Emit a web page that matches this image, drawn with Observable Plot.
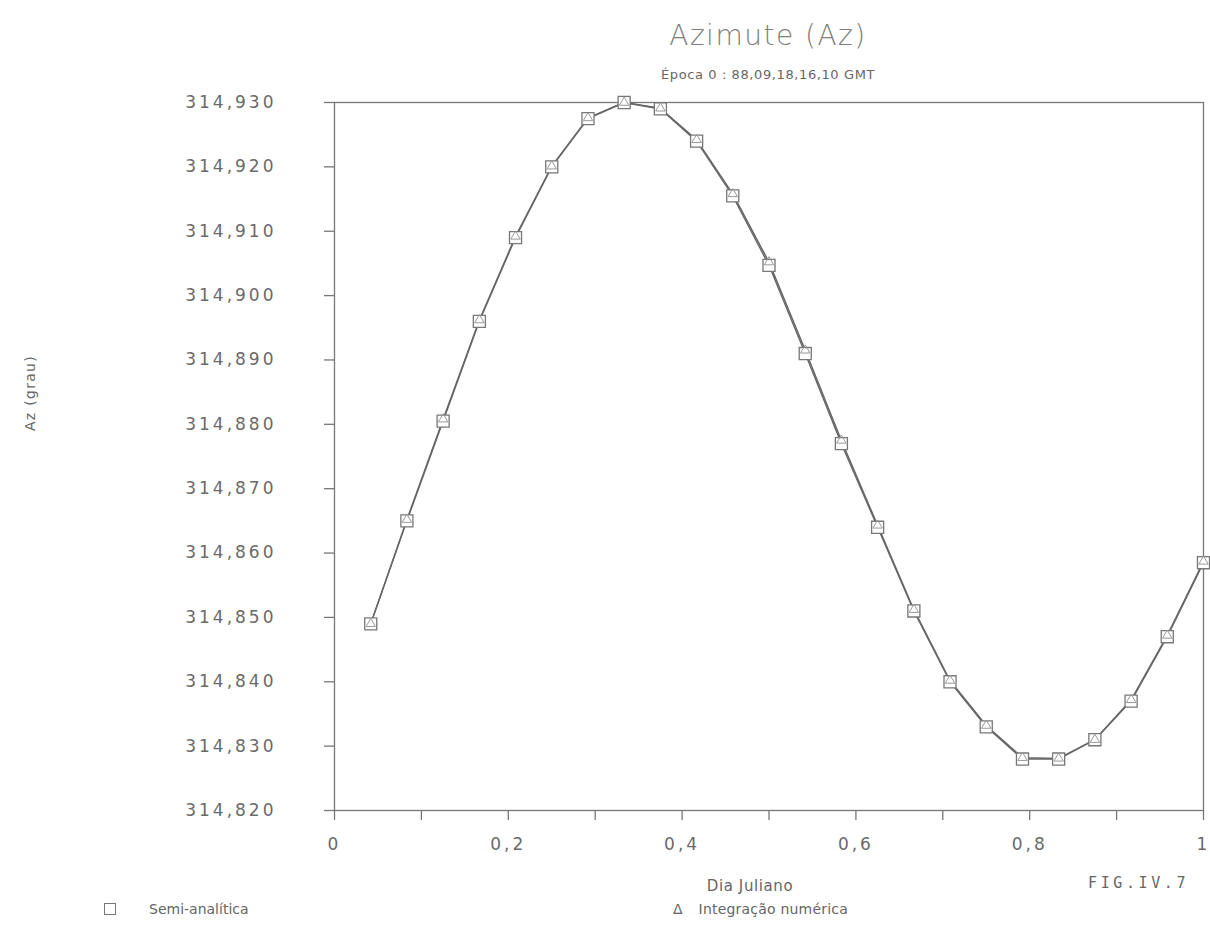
<!DOCTYPE html>
<html><head><meta charset="utf-8">
<script src="https://cdn.jsdelivr.net/npm/d3@7"></script>
<script src="https://cdn.jsdelivr.net/npm/@observablehq/plot@0.6"></script>
<style>
body{margin:0;background:#fff;width:1210px;height:939px;position:relative;overflow:hidden;font-family:"DejaVu Sans",sans-serif;color:#666}
.t{position:absolute;white-space:nowrap;line-height:1}
.c{transform:translateX(-50%)}
#chart{position:absolute;left:0;top:0}
</style></head><body>
<div id="chart"></div>
<div class="t c" style="left:768px;top:22px;font-size:28px;color:#808080;letter-spacing:1.5px;font-weight:300">Azimute (Az)</div>
<div class="t c" style="left:768px;top:68px;font-size:13px;color:#666;letter-spacing:0.6px">Época 0 : 88,09,18,16,10 GMT</div>
<div class="t" style="left:30px;top:393px;font-size:14px;color:#666;transform:translate(-50%,-50%) rotate(-90deg);letter-spacing:1.3px">Az (grau)</div>
<div class="t c" style="left:750px;top:879px;font-size:15px;color:#666;letter-spacing:0.6px">Dia Juliano</div>
<div class="t" style="left:1088px;top:876px;font-size:15px;color:#666;font-family:'DejaVu Sans Mono',monospace;letter-spacing:3.6px">FIG.IV.7</div>
<div class="t" style="left:104px;top:902px;font-size:14px;color:#666"><span style="display:inline-block;width:10px;height:10px;border:1.3px solid #777;vertical-align:-1px"></span><span style="margin-left:33px">Semi-analítica</span></div>
<div class="t" style="left:673px;top:902px;font-size:14px;color:#666"><span>Δ</span><span style="margin-left:16px;letter-spacing:0.2px">Integração numérica</span></div>
<script>
const dia = [0.0417,0.0833,0.1250,0.1667,0.2083,0.2500,0.2917,0.3333,0.3750,0.4167,0.4583,0.5000,0.5417,0.5833,0.6250,0.6667,0.7083,0.7500,0.7917,0.8333,0.8750,0.9167,0.9583,1.0000];
const semiAnalitica = [314.849,314.865,314.8805,314.896,314.909,314.920,314.9275,314.930,314.929,314.924,314.9155,314.9047,314.891,314.877,314.864,314.851,314.840,314.833,314.828,314.828,314.831,314.837,314.847,314.8585];
const integracaoNumerica = [314.849,314.8652,314.8808,314.8962,314.9092,314.9201,314.9276,314.9300,314.9291,314.9242,314.9158,314.9052,314.8915,314.8775,314.8643,314.8512,314.8402,314.8332,314.8282,314.8281,314.8310,314.8372,314.8472,314.8587];
const yTicks = [314.82,314.83,314.84,314.85,314.86,314.87,314.88,314.89,314.90,314.91,314.92,314.93];
const xTicks = [0,0.1,0.2,0.3,0.4,0.5,0.6,0.7,0.8,0.9,1];
const xLabels = ["0","","0,2","","0,4","","0,6","","0,8","","1"];

const semi = dia.map((d,i)=>({dia:d, az:semiAnalitica[i]}));
const numer = dia.map((d,i)=>({dia:d, az:integracaoNumerica[i]}));
const fmtY = d => d3.format(".3f")(d).replace(".", ",");
const fmtX = d => xLabels[xTicks.findIndex(t => Math.abs(t-d)<1e-9)] ?? "";

const chart = Plot.plot({
  width:1210, height:939,
  marginLeft:334, marginRight:7, marginTop:102, marginBottom:129,
  x:{domain:[0,1]},
  y:{domain:[314.82,314.93]},
  style:{fontFamily:"DejaVu Sans, sans-serif", fontSize:"17px", color:"#666", background:"transparent", overflow:"visible"},
  marks:[
    Plot.frame({stroke:"#777", strokeWidth:1.3}),
    Plot.axisY({ticks:yTicks, tickSize:10, tickPadding:48, tickFormat:fmtY, label:null, stroke:"#777", strokeWidth:1.3, fill:"#6a6a6a", fontSize:17}),
    Plot.axisX({ticks:xTicks, tickSize:10, tickPadding:17, tickFormat:fmtX, label:null, stroke:"#777", strokeWidth:1.3, fill:"#6a6a6a", fontSize:17}),
    Plot.line(numer, {x:"dia", y:"az", stroke:"#666", strokeWidth:1.4}),
    Plot.line(semi, {x:"dia", y:"az", stroke:"#666", strokeWidth:1.4}),
    Plot.dot(semi, {x:"dia", y:"az", symbol:"square", r:6.8, fill:"white", stroke:"#777", strokeWidth:1.3}),
    Plot.dot(numer, {x:"dia", y:"az", symbol:"triangle", r:3.5, fill:"none", stroke:"#999", strokeWidth:1})
  ]
});
chart.querySelectorAll("g[aria-label='y-axis tick label'] text, g[aria-label='x-axis tick label'] text").forEach(t => t.style.letterSpacing = "3px");
document.getElementById("chart").appendChild(chart);
</script>
</body></html>
